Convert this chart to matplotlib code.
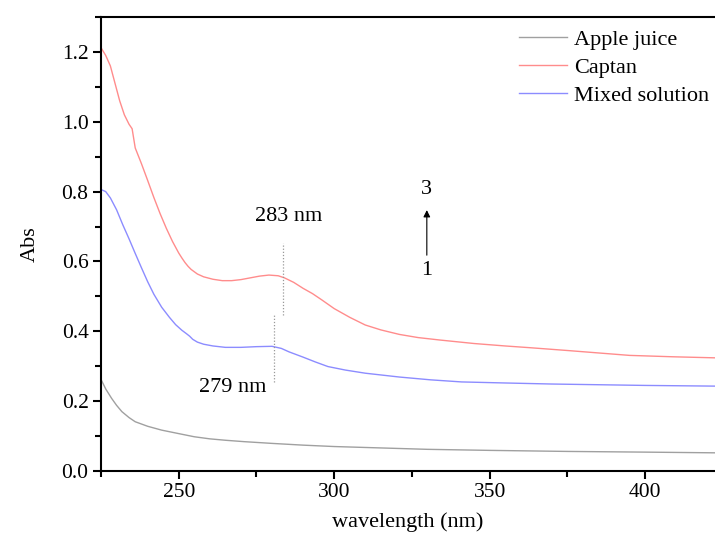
import matplotlib
matplotlib.use("Agg")
import matplotlib.pyplot as plt
from matplotlib.ticker import MultipleLocator

plt.rcParams['font.family'] = ['Liberation Serif', 'DejaVu Serif']

# absorbance spectra
wl_apple = [225, 226.5, 228.4, 230, 231.7, 234, 236, 240, 244.5, 250, 255, 260, 265, 271,
            280, 290, 300, 315, 330, 350, 375, 400, 422.5]
abs_apple = [0.262, 0.235, 0.208, 0.188, 0.17, 0.153, 0.141, 0.128, 0.117, 0.107, 0.098, 0.092,
             0.088, 0.084, 0.079, 0.074, 0.07, 0.066, 0.062, 0.059, 0.056, 0.054, 0.052]

wl_captan = [225, 226.5, 228, 229.5, 231, 232.5, 234, 235, 236, 238, 240, 242, 244, 246, 248,
             250, 251, 252, 253, 254, 256, 258, 261, 264, 267, 270, 273, 276, 279, 282, 284,
             287, 290, 293, 296, 300, 305, 310, 315, 321, 327, 334, 345, 355, 363, 375, 385,
             395, 409, 422.5]
abs_captan = [1.212, 1.19, 1.16, 1.11, 1.06, 1.02, 0.993, 0.98, 0.925, 0.88, 0.832, 0.783,
              0.737, 0.695, 0.657, 0.624, 0.61, 0.597, 0.586, 0.577, 0.564, 0.556, 0.549, 0.545,
              0.545, 0.548, 0.553, 0.558, 0.561, 0.559, 0.553, 0.54, 0.523, 0.508, 0.49, 0.465,
              0.44, 0.418, 0.404, 0.391, 0.382, 0.375, 0.365, 0.358, 0.353, 0.345, 0.338, 0.331,
              0.327, 0.324]

wl_mixed = [225, 226.5, 228, 230, 232, 234, 236, 238, 240, 242, 244.5, 247, 249, 251, 252.5,
            253.5, 254.5, 256, 258, 261, 265, 270, 275, 280, 283, 285.5, 290, 294, 298, 303.6,
            310, 321, 331, 341, 355, 370, 385, 400, 422.5]
abs_mixed = [0.806, 0.80, 0.782, 0.748, 0.705, 0.665, 0.623, 0.582, 0.542, 0.506, 0.469, 0.44,
             0.419, 0.403, 0.393, 0.386, 0.377, 0.369, 0.363, 0.358, 0.354, 0.354, 0.356, 0.357,
             0.351, 0.341, 0.326, 0.312, 0.299, 0.289, 0.28, 0.269, 0.261, 0.255, 0.252, 0.249,
             0.247, 0.245, 0.243]

fig = plt.figure(figsize=(7.15, 5.36), dpi=100)
ax = fig.add_axes([0.1413, 0.1213, 0.8587, 0.847])

ax.plot(wl_apple, abs_apple, color='#a0a0a0', lw=1.0, label='Apple juice')
ax.plot(wl_captan, abs_captan, color='#ff8c8c', lw=1.0, label='Captan')
ax.plot(wl_mixed, abs_mixed, color='#8c8cff', lw=1.0, label='Mixed solution')

# peak markers
ax.plot([283.4, 283.4], [0.446, 0.652], color='#999999', lw=0.9, ls=(0, (1, 1.5)))
ax.plot([280.7, 280.7], [0.255, 0.45], color='#999999', lw=0.9, ls=(0, (1, 1.5)))
ax.text(285.5, 0.729, '283 nm', fontsize=16, ha='center', va='center')
ax.text(267.3, 0.24, '279 nm', fontsize=16, ha='center', va='center')

# arrow 1 -> 3
ax.annotate('', xy=(329.8, 0.755), xytext=(329.8, 0.61),
            arrowprops=dict(arrowstyle='-|>', color='black', lw=0.8, mutation_scale=10))
ax.text(329.8, 0.805, '3', fontsize=16, ha='center', va='center')
ax.text(329.8, 0.575, '1', fontsize=16, ha='center', va='center')

ax.set_xlim(225, 422.5)
ax.set_ylim(0, 1.3)
ax.xaxis.set_major_locator(MultipleLocator(50))
ax.xaxis.set_minor_locator(MultipleLocator(25))
ax.yaxis.set_major_locator(MultipleLocator(0.2))
ax.yaxis.set_minor_locator(MultipleLocator(0.1))
ax.yaxis.set_major_formatter(plt.FormatStrFormatter('%.1f'))

ax.spines['right'].set_visible(False)
for s in ['left', 'bottom', 'top']:
    ax.spines[s].set_linewidth(1.5)
ax.tick_params(which='major', direction='out', length=6, width=1.5, labelsize=15.5, pad=3)
ax.tick_params(which='minor', direction='out', length=4, width=1.5)
ax.tick_params(top=False, which='both')

ax.set_xlabel('wavelength (nm)', fontsize=16, labelpad=7)
ax.set_ylabel('Abs', fontsize=16, labelpad=16)

ax.legend(loc='upper right', bbox_to_anchor=(1.0, 0.985), frameon=False, fontsize=16,
          handlelength=2.15, handletextpad=0.35, labelspacing=0.33, borderaxespad=0.0,
          borderpad=0.25)

fig.savefig('out.png', dpi=100)
